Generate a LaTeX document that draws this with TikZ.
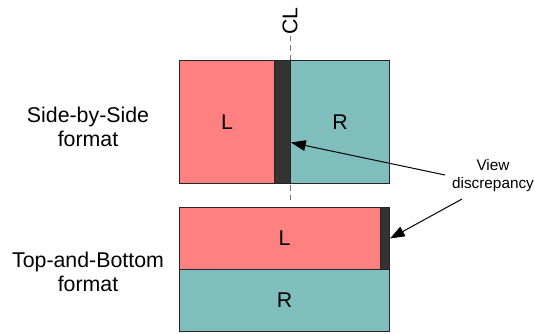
\documentclass[tikz,border=0pt]{standalone}
\usepackage{fontspec}
\setmainfont{Liberation Sans}
\usetikzlibrary{arrows.meta,calc}
\definecolor{lred}{RGB}{255,128,128}
\definecolor{rteal}{RGB}{128,190,190}
\definecolor{dstrip}{RGB}{51,51,51}
\begin{document}
\begin{tikzpicture}[x=0.75pt,y=-0.75pt,
  panel/.style={draw=black!85,line width=0.75pt,anchor=north west,inner sep=0pt,font=\fontsize{16}{18}\selectfont},
  strip/.style={panel,fill=dstrip},
  lbl/.style={align=center,font=\fontsize{16}{18.5}\selectfont},
  ptr/.style={line width=0.75pt,-{Triangle[length=11pt,width=8pt]}}]
\useasboundingbox (0,0) rectangle (535,333);
% centre line (behind the panels)
\coordinate (cltop) at (290,36);
\coordinate (clbot) at (290,201);
\draw[black!55,line width=0.75pt,dash pattern=on 4pt off 3pt] (cltop) -- (clbot);
\node[rotate=90,anchor=west,inner sep=1pt,font=\fontsize{16}{18}\selectfont] (CL) at (cltop) {CL};
% top: side by side
\node[panel,fill=lred,minimum width=95*0.75pt,minimum height=123*0.75pt] (L1) at (179,60) {L};
\node[panel,fill=rteal,minimum width=99*0.75pt,minimum height=123*0.75pt] (R1) at (290,60) {R};
\node[strip,minimum width=16*0.75pt,minimum height=123*0.75pt] (S1) at (274,60) {};
% bottom: top and bottom
\node[panel,fill=lred,minimum width=210*0.75pt,minimum height=62*0.75pt] (L2) at (179,207) {L};
\node[panel,fill=rteal,minimum width=210*0.75pt,minimum height=62*0.75pt] (R2) at (179,269) {R};
\node[strip,minimum width=9*0.75pt,minimum height=62*0.75pt] (S2) at (380,207) {};
% labels
\node[lbl] (sbs) at (88,127) {Side-by-Side\\format};
\node[lbl] (tab) at (88,272) {Top-and-Bottom\\format};
\node[align=center,font=\fontsize{11.5}{13.5}\selectfont] (vd) at (493,176) {View\\discrepancy};
% arrows
\coordinate (a1) at (445,175);
\coordinate (a2) at (462,199);
\draw[ptr] (a1) -- ($(S1.east)+(0,20.5)$);
\draw[ptr] (a2) -- (S2.east);
\end{tikzpicture}
\end{document}
